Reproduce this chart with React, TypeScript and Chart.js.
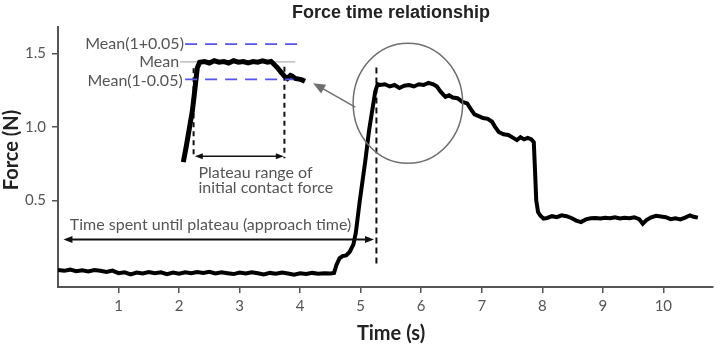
import React, { useEffect, useRef } from "react";
import { Chart, registerables } from "chart.js";

Chart.register(...registerables);

// ---- data ----
const mainTime = [
  0.0, 0.1, 0.2, 0.3, 0.4, 0.5, 0.6, 0.7, 0.8, 0.9,
  1.0, 1.1, 1.2, 1.3, 1.4, 1.5, 1.6, 1.7, 1.8, 1.9,
  2.0, 2.1, 2.2, 2.3, 2.4, 2.5, 2.6, 2.7, 2.8, 2.9,
  3.0, 3.1, 3.2, 3.3, 3.4, 3.5, 3.6, 3.7, 3.8, 3.9,
  4.0, 4.1, 4.2, 4.3, 4.4, 4.5, 4.56, 4.6, 4.65, 4.7,
  4.76, 4.82, 4.88, 4.92, 4.98, 5.04, 5.08, 5.14, 5.19, 5.24,
  5.28, 5.32, 5.4, 5.48, 5.56, 5.64, 5.72, 5.8, 5.88, 5.96,
  6.04, 6.12, 6.2, 6.26, 6.32, 6.4, 6.46, 6.52, 6.6, 6.68,
  6.76, 6.82, 6.88, 6.94, 7.02, 7.1, 7.17, 7.22, 7.28, 7.36,
  7.44, 7.52, 7.58, 7.64, 7.7, 7.76, 7.82, 7.86, 7.88, 7.9,
  7.93, 7.97, 8.02, 8.08, 8.16, 8.24, 8.32, 8.4, 8.48, 8.56,
  8.64, 8.72, 8.8, 8.88, 8.96, 9.04, 9.12, 9.2, 9.28, 9.36,
  9.44, 9.52, 9.6, 9.66, 9.72, 9.8, 9.88, 9.96, 10.04, 10.12,
  10.2, 10.28, 10.36, 10.44, 10.5, 10.57,
];
const mainForce = [
  0.026, 0.02, 0.028, 0.018, 0.024, 0.016, 0.026, 0.02, 0.012, 0.022,
  0.004, 0.01, -0.004, 0.008, 0.002, 0.012, 0.004, 0.01, -0.002, 0.008,
  0.0, 0.01, 0.004, 0.012, 0.006, 0.014, 0.002, 0.01, 0.004, -0.002,
  0.008, 0.002, 0.01, 0.004, -0.004, 0.006, 0.0, 0.008, 0.002, -0.006,
  0.004, -0.002, 0.006, 0.0, 0.004, 0.002, 0.006, 0.06, 0.105, 0.12,
  0.125, 0.15, 0.2, 0.28, 0.48, 0.66, 0.78, 0.98, 1.11, 1.24,
  1.29, 1.285, 1.29, 1.275, 1.285, 1.265, 1.28, 1.285, 1.275, 1.29,
  1.285, 1.3, 1.29, 1.275, 1.24, 1.205, 1.215, 1.2, 1.195, 1.17,
  1.16, 1.12, 1.085, 1.075, 1.06, 1.055, 1.035, 1.0, 0.965, 0.95,
  0.945, 0.925, 0.91, 0.93, 0.915, 0.925, 0.915, 0.895, 0.7, 0.5,
  0.42, 0.395, 0.375, 0.38, 0.392, 0.385, 0.398, 0.392, 0.38, 0.362,
  0.352, 0.37, 0.378, 0.38, 0.376, 0.382, 0.378, 0.384, 0.376, 0.382,
  0.378, 0.384, 0.372, 0.34, 0.365, 0.385, 0.395, 0.39, 0.385, 0.372,
  0.378, 0.37, 0.382, 0.398, 0.388, 0.382,
];

// magnified inset of the first plateau (drawn in main axis units)
const insetTime = [
  2.07, 2.12, 2.17, 2.22, 2.26, 2.3, 2.34, 2.42, 2.5, 2.58,
  2.66, 2.74, 2.82, 2.9, 2.98, 3.06, 3.14, 3.22, 3.3, 3.38,
  3.46, 3.52, 3.56, 3.62, 3.68, 3.74, 3.79, 3.84, 3.87, 3.92,
  3.98, 4.03, 4.08,
];
const insetForce = [
  0.76, 0.87, 0.99, 1.11, 1.25, 1.4, 1.44, 1.445, 1.435, 1.45,
  1.44, 1.445, 1.435, 1.45, 1.44, 1.445, 1.435, 1.445, 1.44, 1.45,
  1.44, 1.445, 1.43, 1.405, 1.375, 1.345, 1.33, 1.35, 1.345, 1.33,
  1.325, 1.32, 1.31,
];

const meanValue = 1.442;
const meanUpper = 1.563;
const meanLower = 1.324;
const meanLabels = ["Mean(1+0.05)", "Mean", "Mean(1-0.05)"];
const plateauStart = 2.24;
const plateauEnd = 3.74;
const approachEnd = 5.26;
const approachLabel = "Time spent until plateau (approach time)";
const plateauLabel = ["Plateau range of", "initial contact force"];

const xTicks = [1, 2, 3, 4, 5, 6, 7, 8, 9, 10];
const yTicks = [0.5, 1.0, 1.5];
const chartTitle = "Force time relationship";
const xTitle = "Time (s)";
const yTitle = "Force (N)";

const LABEL_FONT = "Lato, 'DejaVu Sans', sans-serif";

function pts(xs: number[], ys: number[]) {
  return xs.map((x, i) => ({ x, y: ys[i] }));
}

function arrowHead(ctx: CanvasRenderingContext2D, x: number, y: number, ang: number, len: number, half: number) {
  ctx.beginPath();
  ctx.moveTo(x, y);
  ctx.lineTo(x - len * Math.cos(ang) + half * Math.sin(ang), y - len * Math.sin(ang) - half * Math.cos(ang));
  ctx.lineTo(x - len * Math.cos(ang) - half * Math.sin(ang), y - len * Math.sin(ang) + half * Math.cos(ang));
  ctx.closePath();
  ctx.fill();
}

const annotationPlugin = {
  id: "annot",
  afterDatasetsDraw(chart: any) {
    const ctx: CanvasRenderingContext2D = chart.ctx;
    const xs = chart.scales.x;
    const ys = chart.scales.y;
    const px = (v: number) => xs.getPixelForValue(v);
    const py = (v: number) => ys.getPixelForValue(v);
    ctx.save();

    // circle around the first plateau
    ctx.strokeStyle = "#6e6e6e";
    ctx.lineWidth = 1.5;
    ctx.beginPath();
    const cx = px(5.78), cy = py(1.161);
    ctx.ellipse(cx, cy, px(5.78 + 0.905) - cx, cy - py(1.161 + 0.409), 0, 0, Math.PI * 2);
    ctx.stroke();

    // gray arrow from circle to inset
    const ax0 = px(4.91), ay0 = py(1.134), ax1 = px(4.215), ay1 = py(1.297);
    const ang = Math.atan2(ay1 - ay0, ax1 - ax0);
    ctx.strokeStyle = "#6e6e6e";
    ctx.fillStyle = "#6e6e6e";
    ctx.lineWidth = 1.5;
    ctx.beginPath();
    ctx.moveTo(ax0, ay0);
    ctx.lineTo(ax1 - 8 * Math.cos(ang), ay1 - 8 * Math.sin(ang));
    ctx.stroke();
    arrowHead(ctx, ax1, ay1, ang, 12, 5);

    // approach time double arrow
    ctx.strokeStyle = "#111";
    ctx.fillStyle = "#111";
    ctx.lineWidth = 2;
    const ya = py(0.234);
    const xa0 = px(0.09), xa1 = px(5.22);
    ctx.beginPath();
    ctx.moveTo(xa0 + 6, ya);
    ctx.lineTo(xa1 - 6, ya);
    ctx.stroke();
    arrowHead(ctx, xa0, ya, Math.PI, 9, 3.5);
    arrowHead(ctx, xa1, ya, 0, 9, 3.5);

    // plateau double arrow
    const yp = py(0.8);
    const xp0 = px(plateauStart + 0.02), xp1 = px(plateauEnd - 0.01);
    ctx.lineWidth = 1.5;
    ctx.beginPath();
    ctx.moveTo(xp0 + 5, yp);
    ctx.lineTo(xp1 - 5, yp);
    ctx.stroke();
    arrowHead(ctx, xp0, yp, Math.PI, 8, 3);
    arrowHead(ctx, xp1, yp, 0, 8, 3);

    // texts
    ctx.fillStyle = "#555";
    ctx.font = `16px ${LABEL_FONT}`;
    ctx.textBaseline = "middle";
    ctx.textAlign = "right";
    ctx.fillText(meanLabels[0], px(2.08), py(meanUpper));
    ctx.fillText(meanLabels[1], px(2.0), py(meanValue));
    ctx.fillText(meanLabels[2], px(2.06), py(meanLower - 0.01));
    ctx.textAlign = "left";
    ctx.fillText(plateauLabel[0], px(2.32), py(0.69));
    ctx.fillText(plateauLabel[1], px(2.32), py(0.585));
    ctx.textAlign = "center";
    ctx.fillText(approachLabel, px(2.52), py(0.33));

    // titles
    ctx.fillStyle = "#222";
    ctx.font = `bold 18px 'Liberation Sans', Arial, sans-serif`;
    ctx.textAlign = "center";
    ctx.fillText(chartTitle, 391, 13);
    ctx.font = `bold 20px ${LABEL_FONT}`;
    ctx.fillText(xTitle, 391, 334);
    ctx.save();
    ctx.translate(12, 150);
    ctx.rotate(-Math.PI / 2);
    ctx.fillText(yTitle, 0, 0);
    ctx.restore();

    ctx.restore();
  },
};

export default function App() {
  const ref = useRef<HTMLCanvasElement | null>(null);
  useEffect(() => {
    if (!ref.current) return;
    const blue = "rgb(85,85,235)";
    const chart = new Chart(ref.current, {
      type: "line",
      data: {
        datasets: [
          {
            label: "force",
            data: pts(mainTime, mainForce),
            borderColor: "#000",
            borderWidth: 4,
            pointRadius: 0,
            tension: 0,
            order: 1,
          },
          {
            label: "inset",
            data: pts(insetTime, insetForce),
            borderColor: "#000",
            borderWidth: 5,
            pointRadius: 0,
            tension: 0,
            order: 2,
          },
          {
            label: "mean+",
            data: pts([2.1, 3.97], [meanUpper, meanUpper]),
            borderColor: blue,
            borderWidth: 1.8,
            borderDash: [12, 8],
            pointRadius: 0,
            order: 4,
          },
          {
            label: "mean",
            data: pts([2.02, 3.92], [meanValue, meanValue]),
            borderColor: "#b0b0b0",
            borderWidth: 1.2,
            pointRadius: 0,
            order: 5,
          },
          {
            label: "mean-",
            data: pts([2.1, 3.89], [meanLower, meanLower]),
            borderColor: blue,
            borderWidth: 1.8,
            borderDash: [12, 8],
            pointRadius: 0,
            order: 0,
          },
          {
            label: "pstart",
            data: pts([plateauStart, plateauStart], [1.4, 0.786]),
            borderColor: "#111",
            borderWidth: 2,
            borderDash: [5, 4],
            pointRadius: 0,
            order: 3,
          },
          {
            label: "pend",
            data: pts([plateauEnd, plateauEnd], [1.41, 0.786]),
            borderColor: "#111",
            borderWidth: 2,
            borderDash: [5, 4],
            pointRadius: 0,
            order: 3,
          },
          {
            label: "approach",
            data: pts([approachEnd, approachEnd], [1.405, 0.06]),
            borderColor: "#111",
            borderWidth: 2,
            borderDash: [6, 4],
            pointRadius: 0,
            order: 3,
          },
        ],
      },
      options: {
        animation: false,
        responsive: true,
        maintainAspectRatio: false,
        layout: { padding: { top: 27, right: 10, left: 0, bottom: 0 } },
        plugins: {
          legend: { display: false },
          tooltip: { enabled: false },
          title: { display: false },
        },
        scales: {
          x: {
            type: "linear",
            min: 0,
            max: 10.82,
            afterFit: (s: any) => {
              s.height = 58;
            },
            afterBuildTicks: (s: any) => {
              s.ticks = xTicks.map((v) => ({ value: v }));
            },
            ticks: {
              color: "#555",
              font: { family: LABEL_FONT, size: 15 },
              padding: 4,
              callback: (v: any) => String(v),
            },
            grid: {
              display: true,
              drawOnChartArea: false,
              drawTicks: true,
              tickLength: 6,
              color: "#555",
              lineWidth: 1.5,
            },
            border: { display: true, color: "#555", width: 2 },
          },
          y: {
            type: "linear",
            min: -0.09,
            max: 1.68,
            afterFit: (s: any) => {
              s.width = 58;
            },
            afterBuildTicks: (s: any) => {
              s.ticks = yTicks.map((v) => ({ value: v }));
            },
            ticks: {
              color: "#555",
              font: { family: LABEL_FONT, size: 15 },
              padding: 6,
              callback: (v: any) => Number(v).toFixed(1),
            },
            grid: {
              display: true,
              drawOnChartArea: false,
              drawTicks: true,
              tickLength: 6,
              color: "#555",
              lineWidth: 1.5,
            },
            border: { display: true, color: "#555", width: 2 },
          },
        },
      },
      plugins: [annotationPlugin],
    });
    return () => chart.destroy();
  }, []);

  return (
    <div style={{ position: "fixed", left: 0, top: 0, width: 723, height: 345, background: "#fff" }}>
      <canvas ref={ref} />
    </div>
  );
}
